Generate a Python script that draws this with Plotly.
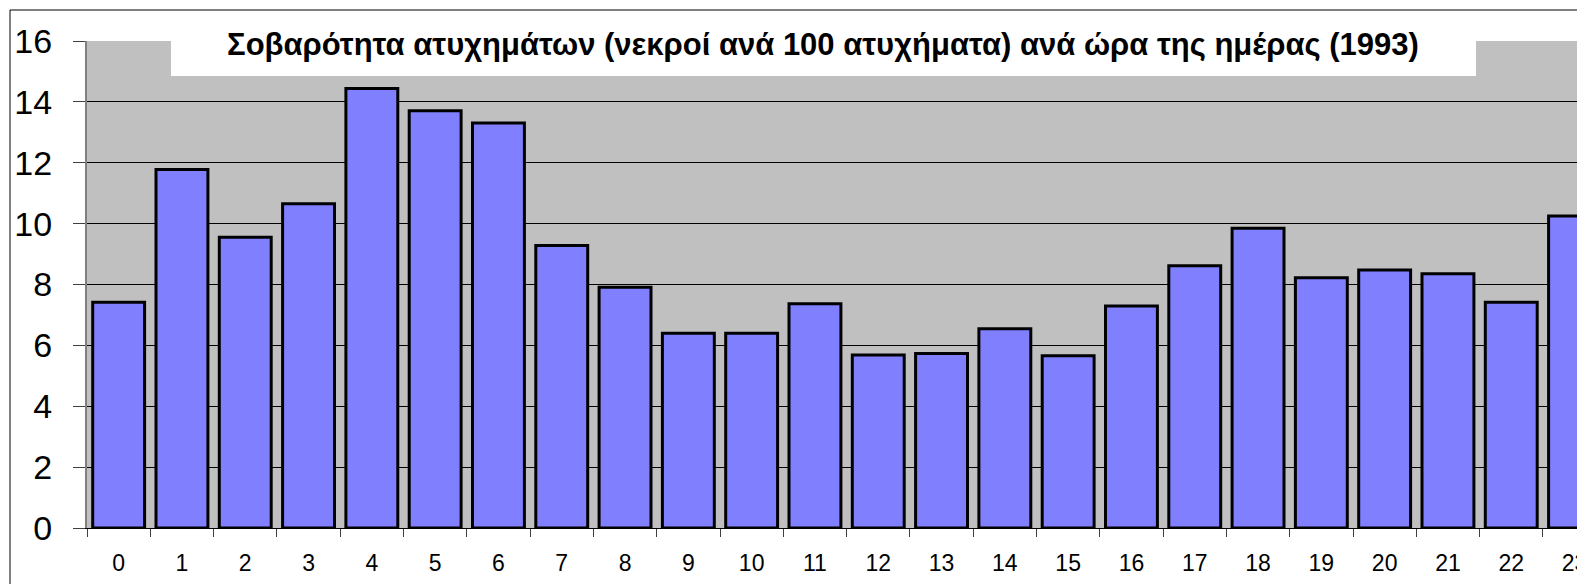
import plotly.graph_objects as go

hours = [str(h) for h in range(24)]
severity = [7.42, 11.78, 9.55, 10.65, 14.44, 13.71, 13.31, 9.28, 7.91, 6.40,
            6.40, 7.37, 5.68, 5.73, 6.55, 5.66, 7.29, 8.62, 9.85, 8.22,
            8.48, 8.35, 7.42, 10.25]
y_ticks = [0, 2, 4, 6, 8, 10, 12, 14, 16]
title_text = "Σοβαρότητα ατυχημάτων (νεκροί ανά 100 ατυχήματα) ανά ώρα της ημέρας (1993)"

# page body has an 8px default margin; work in page pixels and offset
O = 8
PAGE_W, PAGE_H = 1585, 584
W, H = PAGE_W - O, PAGE_H - O
L = 87 - O
T = 41 - O
B = PAGE_H - 528
plot_w = W - L
plot_h = H - T - B
cat_w = 63.3

fig = go.Figure(go.Bar(
    x=hours, y=severity,
    marker=dict(color="#8080FF", line=dict(color="#000000", width=3)),
))

def px_x(p):
    # p in page pixels
    return (p - O - L) / plot_w

def px_y(p):
    return (H - B - (p - O)) / plot_h

fig.update_layout(
    width=W, height=H,
    margin=dict(l=L, r=0, t=T, b=B, pad=0, autoexpand=False),
    paper_bgcolor="white",
    plot_bgcolor="#C0C0C0",
    bargap=0.18,
    showlegend=False,
    font=dict(family="Liberation Sans, Arial, sans-serif", color="black"),
    title=dict(
        text=title_text,
        font=dict(family="Liberation Sans, Arial", size=31, weight=700, color="black"),
        xref="paper", x=px_x(823), xanchor="center",
        yref="container", y=1 - (44 - O) / H, yanchor="middle",
        automargin=False,
    ),
    xaxis=dict(
        type="category",
        range=[-0.5, -0.5 + plot_w / cat_w],
        tickson="boundaries",
        ticks="outside", ticklen=8, tickcolor="#404040", tickwidth=1,
        ticklabelstandoff=14,
        showline=True, linecolor="black", linewidth=1,
        showgrid=False,
        automargin=False,
        tickfont=dict(size=23, family="Liberation Sans, Arial"),
        fixedrange=True,
    ),
    yaxis=dict(
        range=[0, 16], tickvals=y_ticks,
        ticks="outside", ticklen=12, tickcolor="#404040", tickwidth=1,
        ticklabelstandoff=14,
        showline=True, linecolor="#808080", linewidth=2,
        showgrid=True, gridcolor="#000000", gridwidth=1,
        zeroline=False,
        automargin=False,
        tickfont=dict(size=34, family="Liberation Sans, Arial"),
        fixedrange=True,
    ),
    shapes=[
        dict(type="rect", xref="paper", yref="paper", layer="above",
             x0=px_x(171), x1=px_x(1476), y0=px_y(76), y1=px_y(38),
             fillcolor="white", line=dict(width=0)),
        dict(type="line", xref="paper", yref="paper",
             x0=px_x(10), x1=px_x(10), y0=px_y(10), y1=px_y(600),
             line=dict(color="black", width=1)),
        dict(type="line", xref="paper", yref="paper",
             x0=px_x(10), x1=px_x(1700), y0=px_y(10), y1=px_y(10),
             line=dict(color="black", width=1)),
    ],
)

fig.write_html("out.html")
